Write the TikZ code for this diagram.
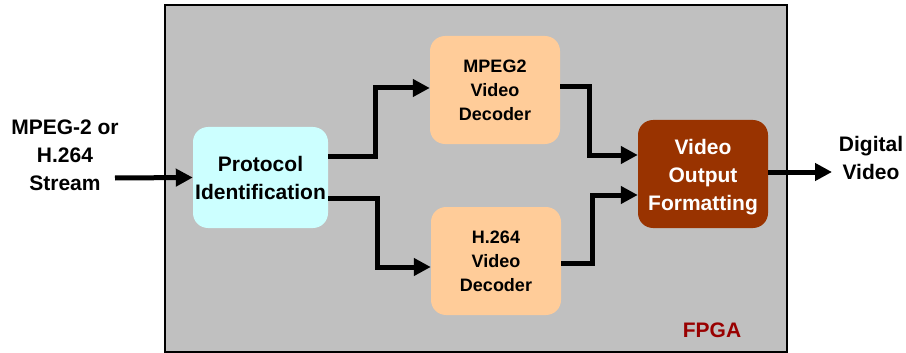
\documentclass[tikz,border=0pt]{standalone}
\usepackage{fontspec}
\setmainfont{Liberation Sans}
\usetikzlibrary{arrows.meta}
\definecolor{fpgagray}{HTML}{C0C0C0}
\definecolor{protocyan}{HTML}{CCFFFF}
\definecolor{decpeach}{HTML}{FFCC99}
\definecolor{outbrown}{HTML}{993300}
\definecolor{fpgared}{HTML}{990000}
\begin{document}
\begin{tikzpicture}[x=1pt,y=-1pt,
        block/.style={rounded corners=15pt,align=center,inner sep=0pt,
          font=\fontsize{21}{28}\selectfont\bfseries},
        decoder/.style={block,fill=decpeach,minimum width=130pt,minimum height=108pt,
          font=\fontsize{18}{24}\selectfont\bfseries},
        label/.style={align=center,font=\fontsize{21}{28}\selectfont\bfseries},
        conn/.style={line width=5pt,-{Triangle[length=17pt,width=17pt]}}]
        \useasboundingbox (0,0) rectangle (906,353);
        % FPGA area
        \draw[fill=fpgagray,line width=2pt] (165,5) rectangle (787,352);
        \node[label,text=fpgared] (fpga) at (712,330) {FPGA};
        % blocks
        \node[block,fill=protocyan,minimum width=135pt,minimum height=101pt] (proto) at (260.5,177.5) {Protocol\\Identification};
        \node[decoder] (mpeg) at (495,90) {MPEG2\\Video\\Decoder};
        \node[decoder] (avc) at (496,261) {H.264\\Video\\Decoder};
        \node[block,fill=outbrown,text=white,minimum width=130pt,minimum height=108pt] (vof) at (703,174) {\\[-6pt]Video\\Output\\Formatting};
        % outside texts
        \node[label] (stream) at (65,155) {MPEG-2 or\\H.264\\Stream};
        \node[label] (digital) at (871,158) {Digital\\Video};
        \coordinate (in) at (115,178);
        \coordinate (out) at (832,172);
        % connectors
        \draw[conn] (in) -- (proto.west);
        \draw[conn] ([yshift=21.5pt]proto.east) -- ++(47,0) |- ([yshift=2pt]mpeg.west);
        \draw[conn] ([yshift=-20.5pt]proto.east) -- ++(49,0) |- ([yshift=-6pt]avc.west);
        \draw[conn] ([yshift=3pt]mpeg.east) -- ++(29,0) |- ([yshift=19pt]vof.west);
        \draw[conn] ([yshift=-2pt]avc.east) -- ++(31,0) |- ([yshift=-21pt]vof.west);
        \draw[conn] ([yshift=2pt]vof.east) -- (out);
\end{tikzpicture}
\end{document}
